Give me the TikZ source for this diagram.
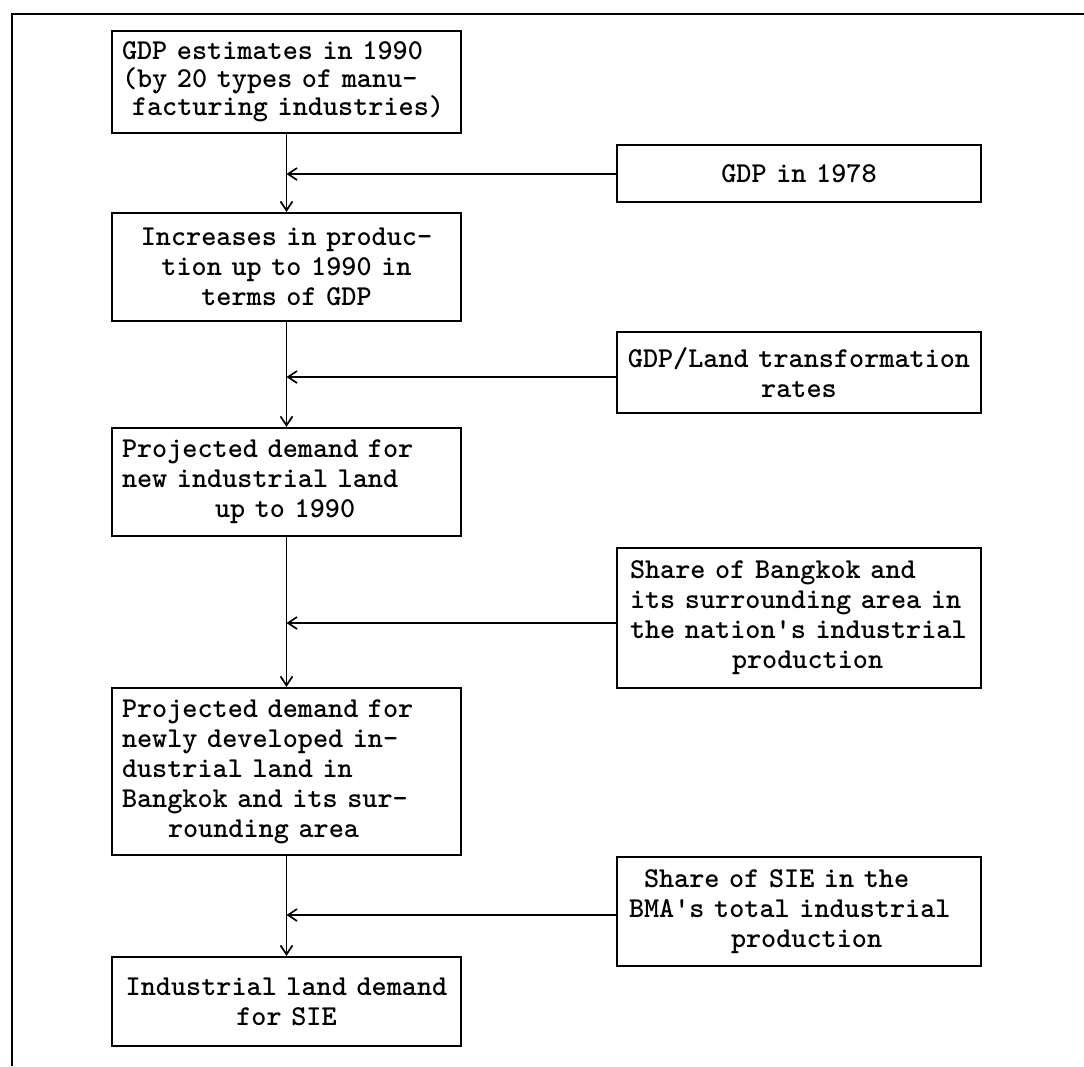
\documentclass[tikz,border=0pt]{standalone}
\usetikzlibrary{arrows.meta}
\begin{document}
\begin{tikzpicture}[x=1pt,y=-1pt]
\tikzset{
  box/.style={draw, line width=2.2pt, inner sep=0pt, align=left,
    font=\fontsize{28.8}{30}\selectfont\ttfamily\bfseries},
  lbox/.style={box, text width=349pt},
  rbox/.style={box, text width=364pt, minimum height=#1},
  arr/.style={line width=1.9pt, -{Straight Barb[length=9pt,width=12pt,line width=1.7pt]}},
  frame/.style={line width=2.2pt}
}
\useasboundingbox (0,0) rectangle (1084,1066);
\draw[frame] (12,1066) -- (12,14) -- (1084,14);

% left column
\node[lbox, minimum height=102pt, font=\fontsize{28.8}{28}\selectfont\ttfamily\bfseries] (b1) at (286.5,82)
  {\hspace*{10pt}GDP estimates in 1990\\\hspace*{10pt}(by 20 types of manu-\\\hspace*{20pt}facturing industries)};
\node[lbox, align=center, minimum height=108pt] (b2) at (286.5,267)
  {Increases in produc-\\tion up to 1990 in\\terms of GDP};
\node[lbox, minimum height=108pt] (b3) at (286.5,482)
  {\hspace*{10pt}Projected demand for\\\hspace*{10pt}new industrial land\\\hspace*{103pt}up to 1990};
\node[lbox, minimum height=167pt] (b4) at (286.5,771.5)
  {\hspace*{10pt}Projected demand for\\\hspace*{10pt}newly developed in-\\\hspace*{10pt}dustrial land in\\\hspace*{10pt}Bangkok and its sur-\\\hspace*{56pt}rounding area};
\node[lbox, align=center, minimum height=89pt] (b5) at (286.5,1001.5)
  {Industrial land demand\\for SIE};

% right column
\node[rbox=57pt, align=center] (r1) at (799,173.5) {GDP in 1978};
\node[rbox=81pt, align=center] (r2) at (799,372.5) {GDP/Land transformation\\rates};
\node[rbox=140pt] (r3) at (799,618)
  {\hspace*{13pt}Share of Bangkok and\\\hspace*{13pt}its surrounding area in\\\hspace*{13pt}the nation's industrial\\\hspace*{115pt}production};
\node[rbox=109pt] (r4) at (799,911.5)
  {\hspace*{27pt}Share of SIE in the\\\hspace*{12pt}BMA's total industrial\\\hspace*{114pt}production};

% junctions
\coordinate (j1) at (286.5,174);
\coordinate (j2) at (286.5,377);
\coordinate (j3) at (286.5,623);
\coordinate (j4) at (286.5,915);

% connectors
\draw[arr] (b1.south) -- (b2.north);
\draw[arr] (b2.south) -- (b3.north);
\draw[arr] (b3.south) -- (b4.north);
\draw[arr] (b4.south) -- (b5.north);
\draw[arr] (j1 -| r1.west) -- (j1);
\draw[arr] (j2 -| r2.west) -- (j2);
\draw[arr] (j3 -| r3.west) -- (j3);
\draw[arr] (j4 -| r4.west) -- (j4);
\end{tikzpicture}
\end{document}
